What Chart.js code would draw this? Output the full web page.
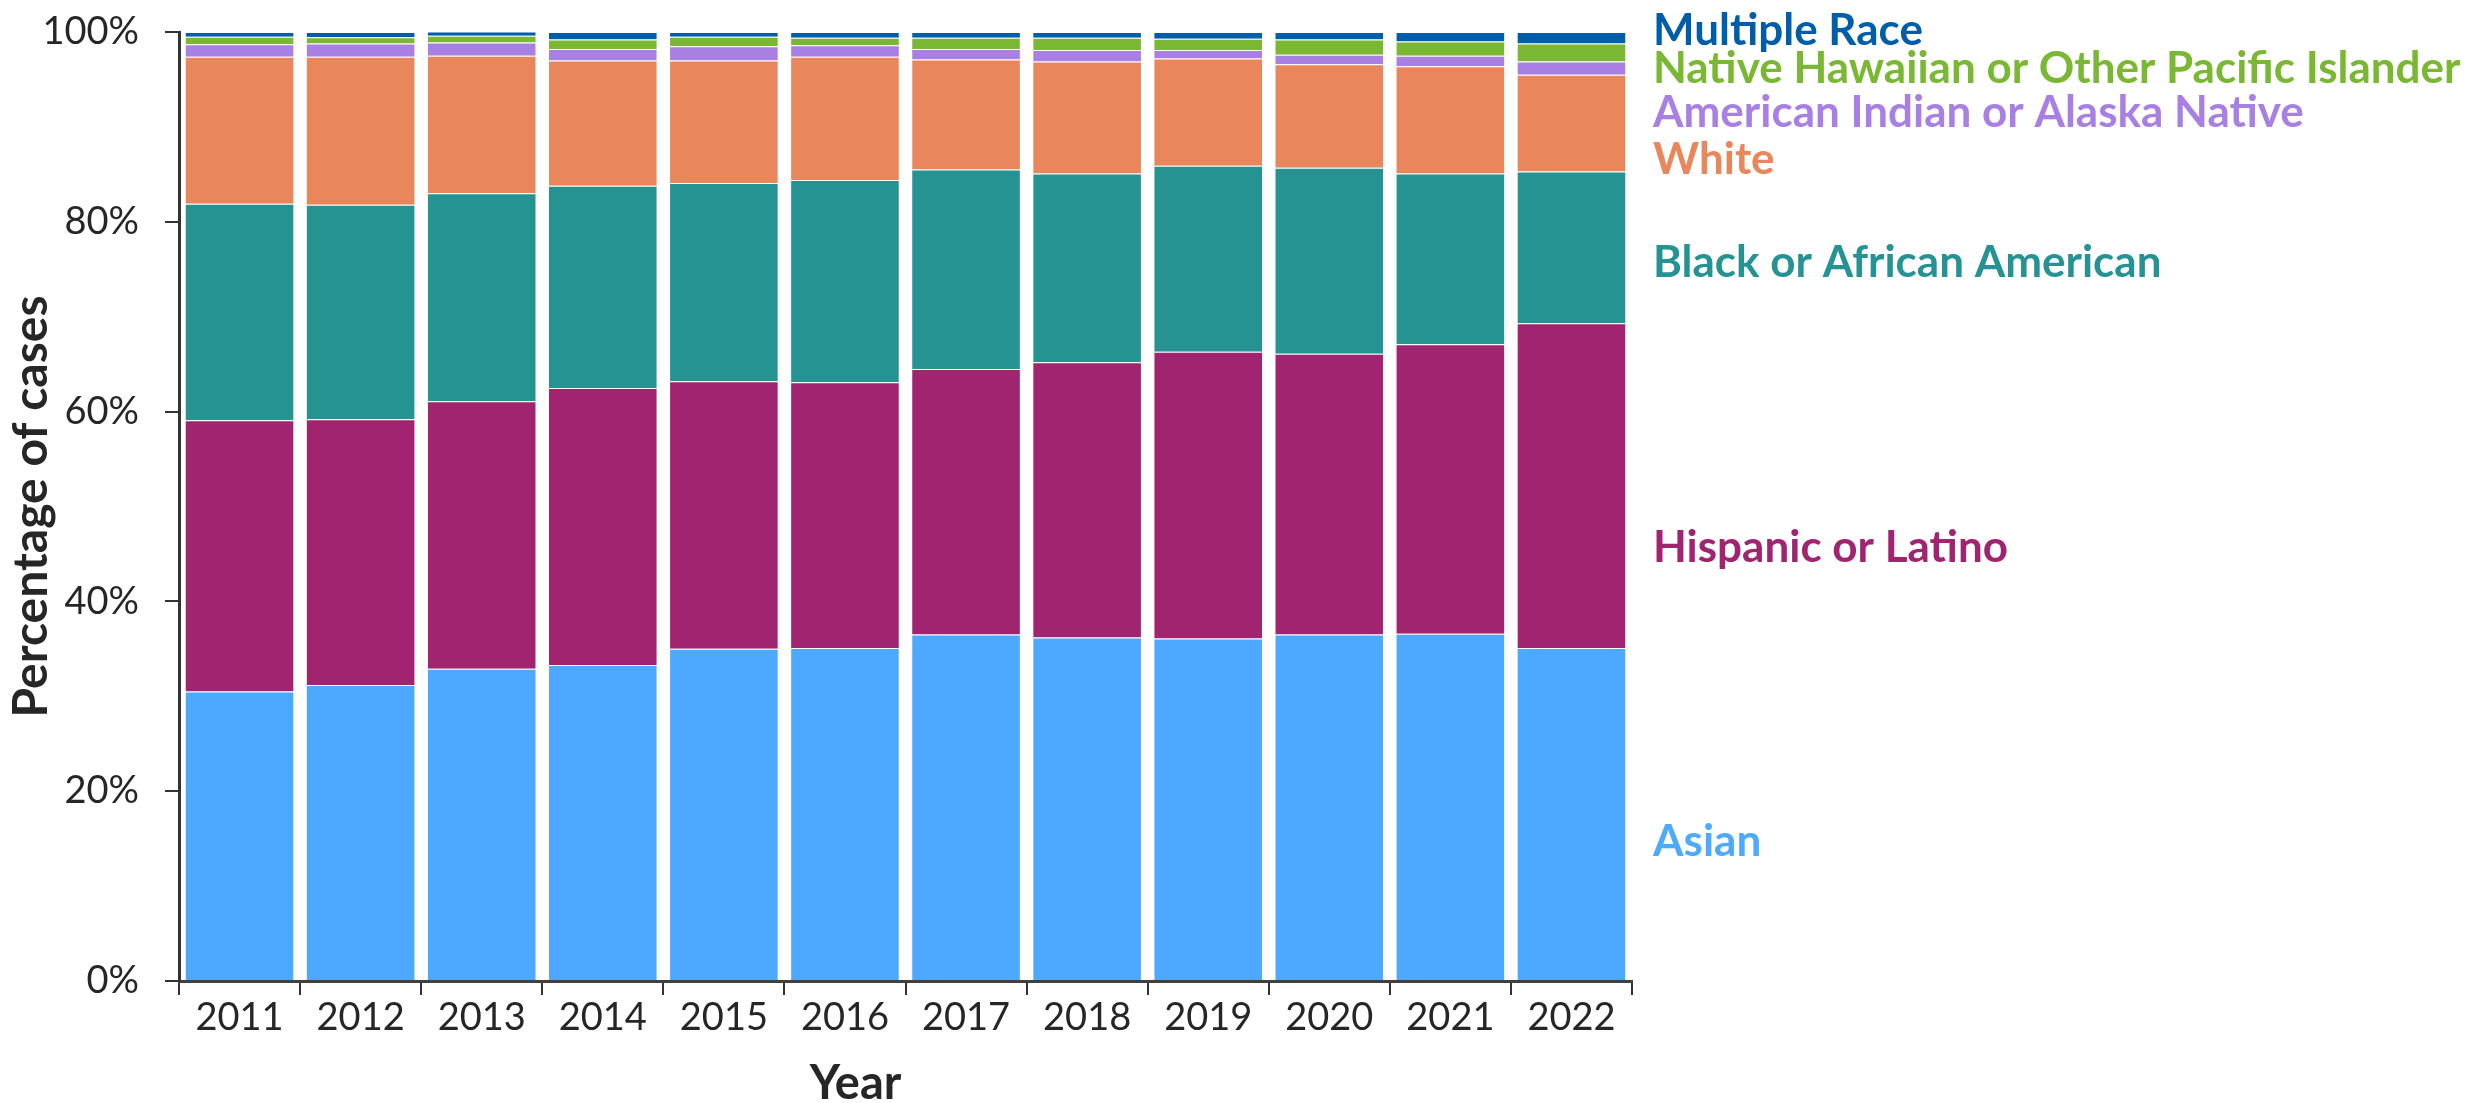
<!DOCTYPE html>
<html>
<head>
<meta charset="utf-8">
<title>Percentage of cases by race and ethnicity, 2011-2022</title>
<script src="https://cdn.jsdelivr.net/npm/chart.js@4.4.1/dist/chart.umd.min.js"></script>
<style>
    html, body { margin: 0; padding: 0; background: #ffffff; }
    #chartWrap { width: 2476px; height: 1103px; position: relative; }
</style>
</head>
<body>
<div id="chartWrap">
    <canvas id="raceChart"></canvas>
</div>
<script>
// categories
const years = ["2011", "2012", "2013", "2014", "2015", "2016", "2017", "2018", "2019", "2020", "2021", "2022"];

// percent of cases per year, bottom of the stack first
const asian    = [30.5, 31.2, 32.9, 33.3, 35.0, 35.1, 36.5, 36.2, 36.1, 36.5, 36.6, 35.1];
const hispanic = [28.6, 28.0, 28.2, 29.2, 28.2, 28.0, 28.0, 29.0, 30.2, 29.6, 30.5, 34.2];
const black    = [22.8, 22.6, 21.9, 21.3, 20.9, 21.3, 21.0, 19.9, 19.6, 19.6, 18.0, 16.0];
const white    = [15.5, 15.6, 14.5, 13.2, 12.9, 13.0, 11.6, 11.8, 11.3, 10.9, 11.3, 10.2];
const aian     = [1.3, 1.4, 1.4, 1.2, 1.5, 1.2, 1.1, 1.2, 0.9, 1.0, 1.1, 1.4];
const nhopi    = [0.8, 0.65, 0.7, 1.0, 1.0, 0.8, 1.2, 1.3, 1.2, 1.6, 1.5, 1.9];
const multiple = [0.5, 0.55, 0.45, 0.8, 0.5, 0.6, 0.6, 0.6, 0.7, 0.8, 1.0, 1.2];

// y axis tick values
const yTickValues = [0, 20, 40, 60, 80, 100];

// series names in stack order
const seriesNames = [
    "Asian",
    "Hispanic or Latino",
    "Black or African American",
    "White",
    "American Indian or Alaska Native",
    "Native Hawaiian or Other Pacific Islander",
    "Multiple Race"
];

// where each name sits on the right, in % of the y axis (text baseline)
const labelBaselinePct = [13.2, 44.1, 74.2, 85.0, 90.0, 94.6, 98.6];

document.addEventListener("DOMContentLoaded", function () {
    renderRaceChart();
});

function renderRaceChart() {
    const colors = ["#4DA9FF", "#A12471", "#259392", "#EA865C", "#A880E3", "#7AB733", "#005EAA"];
    const labelColors = ["#4DAAFF", "#A12471", "#259393", "#EA865C", "#A880E3", "#7AB733", "#005DAA"];
    const seriesValues = [asian, hispanic, black, white, aian, nhopi, multiple];
    const textColor = "#262626";
    const font = "Lato";

    const datasets = seriesValues.map((values, i) => ({
        label: seriesNames[i],
        data: values,
        backgroundColor: colors[i],
        borderColor: "rgba(255,255,255,0.35)",
        borderWidth: 1,
        barPercentage: 0.905,
        categoryPercentage: 1.0
    }));

    // series names on the right + "Year" under the axis
    const sideLabels = {
        id: "sideLabels",
        afterDraw(chart) {
            const ctx = chart.ctx;
            const area = chart.chartArea;
            const yScale = chart.scales.y;

            ctx.save();
            // size the names so the longest one spans like the original
            ctx.font = `bold 40px ${font}`;
            const longest = ctx.measureText(seriesNames[5]).width;
            const size = Math.round(40 * 809 / longest);
            ctx.font = `bold ${size}px ${font}`;
            ctx.textAlign = "left";
            ctx.textBaseline = "alphabetic";
            seriesNames.forEach((name, i) => {
                ctx.fillStyle = labelColors[i];
                ctx.fillText(name, area.right + 21, yScale.getPixelForValue(labelBaselinePct[i]));
            });

            ctx.font = `bold 47px ${font}`;
            ctx.fillStyle = textColor;
            ctx.textAlign = "center";
            ctx.fillText("Year", (area.left + area.right) / 2 - 50, chart.height - 4);
            ctx.restore();
        }
    };

    const ctx = document.getElementById("raceChart").getContext("2d");

    new Chart(ctx, {
        type: "bar",
        data: {
            labels: years,
            datasets: datasets
        },
        plugins: [sideLabels],
        options: {
            responsive: true,
            maintainAspectRatio: false,
            animation: false,
            layout: {
                padding: { top: 32, right: 844, bottom: 0, left: 0 }
            },
            plugins: {
                legend: { display: false },
                tooltip: { enabled: false }
            },
            scales: {
                x: {
                    stacked: true,
                    afterFit: function (scale) { scale.height = 122; },
                    grid: {
                        offset: true,
                        drawOnChartArea: false,
                        drawTicks: true,
                        tickLength: 14,
                        color: "#333333",
                        lineWidth: 2
                    },
                    border: { display: true, color: "#404040", width: 3 },
                    ticks: {
                        color: textColor,
                        font: { family: font, size: 38 },
                        padding: 0,
                        maxRotation: 0
                    }
                },
                y: {
                    stacked: true,
                    min: 0,
                    max: 100,
                    afterFit: function (scale) {
                        scale.width = 179;
                        // the layout padding already leaves room for "100%"
                        scale.paddingTop = 0;
                        scale.paddingBottom = 0;
                    },
                    afterBuildTicks: function (scale) {
                        scale.ticks = yTickValues.map(v => ({ value: v }));
                    },
                    grid: {
                        drawOnChartArea: false,
                        drawTicks: true,
                        tickLength: 14,
                        color: "#333333",
                        lineWidth: 2
                    },
                    border: { display: true, color: "#333333", width: 3 },
                    ticks: {
                        color: textColor,
                        font: { family: font, size: 38 },
                        padding: 26,
                        callback: function (value) {
                            return value + "%";
                        }
                    },
                    title: {
                        display: true,
                        text: "Percentage of cases",
                        color: textColor,
                        font: { family: font, size: 48, weight: "bold" },
                        padding: { top: 3, bottom: 0 }
                    }
                }
            }
        }
    });
}
</script>
</body>
</html>
